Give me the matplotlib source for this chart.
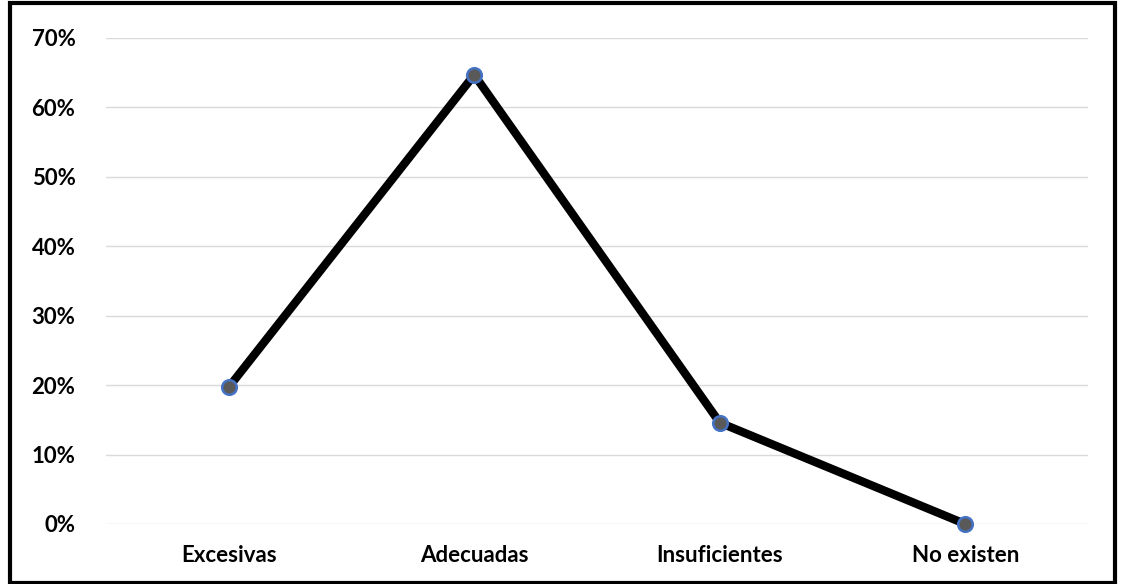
import matplotlib.pyplot as plt
from matplotlib.patches import Rectangle
from matplotlib.ticker import PercentFormatter

categories = ['Excesivas', 'Adecuadas', 'Insuficientes', 'No existen']
values = [0.197, 0.647, 0.146, 0.0]
yticks = [0, 0.1, 0.2, 0.3, 0.4, 0.5, 0.6, 0.7]

plt.rcParams['font.family'] = ['Lato', 'DejaVu Sans']

fig = plt.figure(figsize=(11.21, 5.84), dpi=100)
W, H = 1121, 584
ax = fig.add_axes([106 / W, 1 - 524 / H, (1088 - 106) / W, (524 - 38) / H])

x = list(range(len(categories)))
ax.plot(x, values, color='black', lw=6, solid_capstyle='round', zorder=3, clip_on=False)
ax.plot(x, values, ls='none', marker='o', ms=10.5, mfc='#595959', mec='#4472C4',
        mew=1.8, zorder=4, clip_on=False)

ax.set_xlim(-0.5, len(categories) - 0.5)
ax.set_ylim(0, 0.7)
ax.set_yticks(yticks)
ax.yaxis.set_major_formatter(PercentFormatter(1.0, decimals=0))
ax.set_xticks(x)
ax.set_xticklabels(categories)
ax.tick_params(axis='both', length=0, labelsize=16, colors='black')
for lbl in ax.get_xticklabels() + ax.get_yticklabels():
    lbl.set_fontweight('bold')
ax.tick_params(axis='y', pad=22)
ax.tick_params(axis='x', pad=15)
ax.grid(axis='y', color='#d9d9d9', lw=1)
ax.set_axisbelow(True)
for s in ax.spines.values():
    s.set_visible(False)

# outer frame
fig.patches.append(Rectangle((10 / W, 1 / H), (1115 - 10) / W, (582 - 2) / H,
                             transform=fig.transFigure, fill=False,
                             edgecolor='black', lw=3))

fig.savefig('out.png', dpi=100)
